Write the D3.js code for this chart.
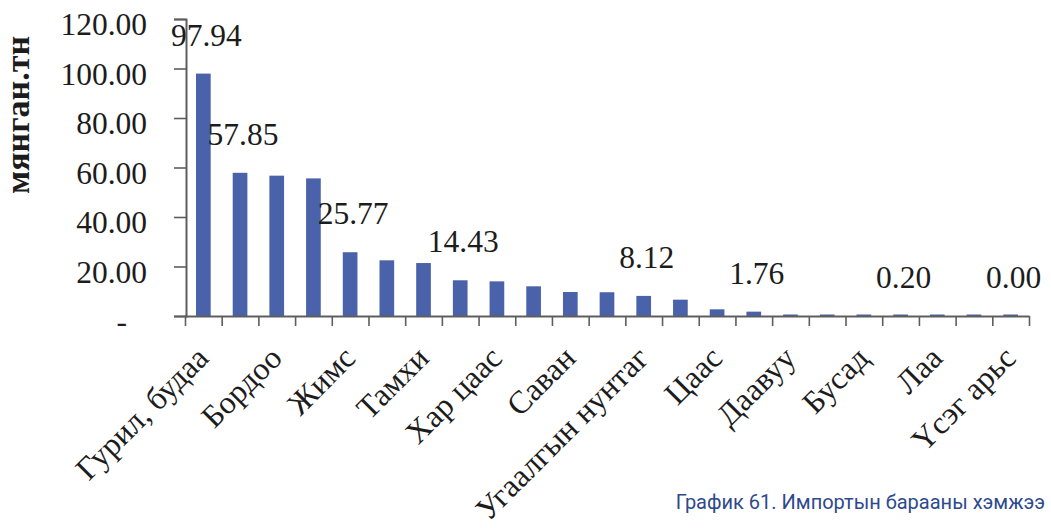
<!DOCTYPE html>
<html>
<head>
<meta charset="utf-8">
<script src="https://cdn.jsdelivr.net/npm/d3@7"></script>
<style>
  html, body { margin: 0; padding: 0; background: #ffffff; }
  svg { display: block; }
</style>
</head>
<body>
<svg id="chart" width="1051" height="528"></svg>
<script>
// ---- data ----
const categories = [
  "Гурил, будаа", "", "Бордоо", "", "Жимс", "", "Тамхи", "", "Хар цаас", "",
  "Саван", "", "Угаалгын нунтаг", "", "Цаас", "", "Даавуу", "", "Бусад", "",
  "Лаа", "", "Үсэг арьс"
];
const values = [
  97.94, 57.85, 56.7, 55.6, 25.77, 22.5, 21.4, 14.43, 14.0, 12.0,
  9.7, 9.6, 8.12, 6.6, 2.7, 1.76, 0.45, 0.38, 0.30, 0.20,
  0.18, 0.10, 0.00
];
const labelledBars = [0, 1, 4, 7, 12, 15, 19, 22];
const yTicks = [0, 20, 40, 60, 80, 100, 120];
const yTickLabels = ["-", "20.00", "40.00", "60.00", "80.00", "100.00", "120.00"];
const yTitle = "мянган.тн";
const caption = "График 61. Импортын барааны хэмжээ";

// ---- layout ----
const svg = d3.select("#chart");
const plot = { left: 185, right: 1029, top: 19, bottom: 316 };
const serif = "'Liberation Serif', 'Times New Roman', serif";
const ink = "#1c1c1c";
const axisColor = "#5e5e5e";
const barColor = "#4a62a9";

const idx = d3.range(values.length);
const x = d3.scaleBand().domain(idx).range([plot.left, plot.right]).paddingInner(0.6).paddingOuter(0.3);
const xEdge = d3.scaleLinear().domain([0, values.length]).range([plot.left, plot.right]);
const y = d3.scaleLinear().domain([0, 120]).range([plot.bottom, plot.top]);

// bars
svg.append("g").selectAll("rect").data(idx).join("rect")
  .attr("x", i => x(i))
  .attr("width", x.bandwidth())
  .attr("y", i => Math.min(y(values[i]), plot.bottom - 1.5))
  .attr("height", i => Math.max(1.5, y(0) - y(values[i])))
  .attr("fill", barColor);

// y axis
const yAxis = svg.append("g")
  .attr("transform", `translate(${plot.left + 1},0)`)
  .call(d3.axisLeft(y).tickValues(yTicks).tickSize(12).tickPadding(27)
    .tickFormat((d, i) => yTickLabels[i]));
yAxis.select(".domain").attr("stroke", axisColor).attr("stroke-width", 2);
yAxis.selectAll(".tick line").attr("stroke", axisColor).attr("stroke-width", 1.6);
yAxis.selectAll(".tick text")
  .attr("font-family", serif).attr("font-size", 31.5).attr("fill", ink)
  .attr("dy", "0.5em")
  .attr("dx", (d, i) => yTickLabels[i] === "-" ? -20 : 0);

// x axis (ticks at category boundaries)
const xAxis = svg.append("g")
  .attr("transform", `translate(0,${plot.bottom})`)
  .call(d3.axisBottom(xEdge).tickValues(d3.range(values.length + 1)).tickSizeInner(10).tickSizeOuter(0).tickFormat(""));
xAxis.select(".domain").attr("stroke", axisColor).attr("stroke-width", 2);
xAxis.selectAll(".tick line").attr("stroke", axisColor).attr("stroke-width", 1.6);

// category labels
svg.append("g").selectAll("text").data(idx.filter(i => categories[i] !== "")).join("text")
  .attr("transform", i => `translate(${x(i) + x.bandwidth() / 2 + 7},${plot.bottom + 44}) rotate(-45)`)
  .attr("text-anchor", "end")
  .attr("font-family", serif).attr("font-size", 32).attr("fill", ink)
  .text(i => categories[i]);

// data labels
svg.append("g").selectAll("text").data(labelledBars).join("text")
  .attr("x", i => x(i) + x.bandwidth() / 2 + 3)
  .attr("y", i => y(values[i]) - 28)
  .attr("text-anchor", "middle")
  .attr("font-family", serif).attr("font-size", 31.5).attr("fill", ink)
  .text(i => d3.format(".2f")(values[i]));

// y title
svg.append("text")
  .attr("transform", "translate(29,115) rotate(-90)")
  .attr("text-anchor", "middle")
  .attr("font-family", serif).attr("font-size", 34).attr("font-weight", "bold").attr("fill", ink)
  .text(yTitle);

// caption
svg.append("text")
  .attr("x", 1045).attr("y", 509)
  .attr("text-anchor", "end")
  .attr("font-family", "Roboto, 'Noto Sans', sans-serif").attr("font-size", 20)
  .attr("fill", "#2d4a8c")
  .text(caption);
</script>
</body>
</html>
